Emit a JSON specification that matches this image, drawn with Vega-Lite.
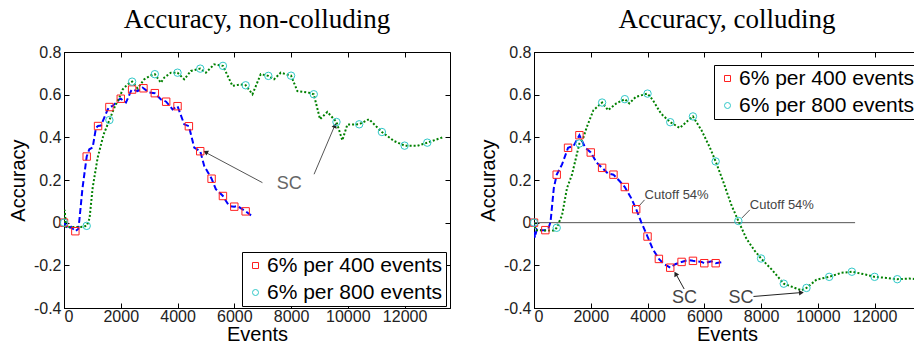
{
  "$schema": "https://vega.github.io/schema/vega-lite/v6.json",
  "background": "white",
  "padding": {"left": 7, "top": 5, "right": 0, "bottom": 0},
  "config": {
    "view": {"stroke": "black", "strokeWidth": 1},
    "font": "Liberation Sans",
    "axis": {
      "grid": false,
      "domainColor": "black",
      "tickColor": "black",
      "tickSize": -5,
      "labelColor": "#222",
      "labelFont": "Liberation Sans",
      "labelFontSize": 16,
      "labelPadding": 8,
      "titleFont": "Liberation Sans",
      "titleFontSize": 20,
      "titleFontWeight": "normal",
      "titleColor": "black"
    },
    "axisX": {"titlePadding": 0, "labelPadding": 5},
    "axisY": {"titlePadding": 5},
    "title": {"font": "Liberation Serif", "fontSize": 27, "fontWeight": "normal", "color": "black", "offset": 10},
    "legend": {
      "strokeColor": "black",
      "fillColor": "white",
      "padding": 3,
      "labelFont": "Liberation Sans",
      "labelFontSize": 21,
      "labelColor": "black",
      "labelLimit": 400,
      "symbolSize": 36,
      "symbolStrokeWidth": 1,
      "rowPadding": 5,
      "labelOffset": 1
    },
    "concat": {"spacing": 26}
  },
  "datasets": {
    "left": [
      {"series": "6% per 400 events", "events": 0, "accuracy": 0.0, "marker": 1},
      {"series": "6% per 400 events", "events": 150, "accuracy": -0.03, "marker": 0},
      {"series": "6% per 400 events", "events": 250, "accuracy": -0.02, "marker": 0},
      {"series": "6% per 400 events", "events": 400, "accuracy": -0.04, "marker": 1},
      {"series": "6% per 400 events", "events": 500, "accuracy": -0.03, "marker": 0},
      {"series": "6% per 400 events", "events": 540, "accuracy": 0.01, "marker": 0},
      {"series": "6% per 400 events", "events": 650, "accuracy": 0.16, "marker": 0},
      {"series": "6% per 400 events", "events": 800, "accuracy": 0.31, "marker": 1},
      {"series": "6% per 400 events", "events": 893, "accuracy": 0.344, "marker": 0},
      {"series": "6% per 400 events", "events": 1010, "accuracy": 0.352, "marker": 0},
      {"series": "6% per 400 events", "events": 1127, "accuracy": 0.445, "marker": 0},
      {"series": "6% per 400 events", "events": 1200, "accuracy": 0.453, "marker": 1},
      {"series": "6% per 400 events", "events": 1303, "accuracy": 0.455, "marker": 0},
      {"series": "6% per 400 events", "events": 1538, "accuracy": 0.53, "marker": 0},
      {"series": "6% per 400 events", "events": 1600, "accuracy": 0.542, "marker": 1},
      {"series": "6% per 400 events", "events": 1714, "accuracy": 0.547, "marker": 0},
      {"series": "6% per 400 events", "events": 1948, "accuracy": 0.578, "marker": 0},
      {"series": "6% per 400 events", "events": 2000, "accuracy": 0.581, "marker": 1},
      {"series": "6% per 400 events", "events": 2183, "accuracy": 0.563, "marker": 0},
      {"series": "6% per 400 events", "events": 2359, "accuracy": 0.617, "marker": 0},
      {"series": "6% per 400 events", "events": 2400, "accuracy": 0.624, "marker": 1},
      {"series": "6% per 400 events", "events": 2594, "accuracy": 0.617, "marker": 0},
      {"series": "6% per 400 events", "events": 2770, "accuracy": 0.633, "marker": 0},
      {"series": "6% per 400 events", "events": 2800, "accuracy": 0.63, "marker": 1},
      {"series": "6% per 400 events", "events": 3005, "accuracy": 0.61, "marker": 0},
      {"series": "6% per 400 events", "events": 3200, "accuracy": 0.607, "marker": 1},
      {"series": "6% per 400 events", "events": 3415, "accuracy": 0.578, "marker": 0},
      {"series": "6% per 400 events", "events": 3600, "accuracy": 0.567, "marker": 1},
      {"series": "6% per 400 events", "events": 3825, "accuracy": 0.531, "marker": 0},
      {"series": "6% per 400 events", "events": 4000, "accuracy": 0.546, "marker": 1},
      {"series": "6% per 400 events", "events": 4236, "accuracy": 0.461, "marker": 0},
      {"series": "6% per 400 events", "events": 4400, "accuracy": 0.452, "marker": 1},
      {"series": "6% per 400 events", "events": 4588, "accuracy": 0.352, "marker": 0},
      {"series": "6% per 400 events", "events": 4800, "accuracy": 0.335, "marker": 1},
      {"series": "6% per 400 events", "events": 4940, "accuracy": 0.266, "marker": 0},
      {"series": "6% per 400 events", "events": 5200, "accuracy": 0.206, "marker": 1},
      {"series": "6% per 400 events", "events": 5350, "accuracy": 0.157, "marker": 0},
      {"series": "6% per 400 events", "events": 5600, "accuracy": 0.125, "marker": 1},
      {"series": "6% per 400 events", "events": 5820, "accuracy": 0.078, "marker": 0},
      {"series": "6% per 400 events", "events": 6000, "accuracy": 0.075, "marker": 1},
      {"series": "6% per 400 events", "events": 6112, "accuracy": 0.078, "marker": 0},
      {"series": "6% per 400 events", "events": 6400, "accuracy": 0.053, "marker": 1},
      {"series": "6% per 400 events", "events": 6650, "accuracy": 0.028, "marker": 0},
      {"series": "6% per 800 events", "events": 0, "accuracy": 0.0, "marker": 1},
      {"series": "6% per 800 events", "events": 20, "accuracy": 0.06, "marker": 0},
      {"series": "6% per 800 events", "events": 80, "accuracy": -0.02, "marker": 0},
      {"series": "6% per 800 events", "events": 300, "accuracy": -0.02, "marker": 0},
      {"series": "6% per 800 events", "events": 600, "accuracy": -0.02, "marker": 0},
      {"series": "6% per 800 events", "events": 800, "accuracy": -0.015, "marker": 1},
      {"series": "6% per 800 events", "events": 900, "accuracy": 0.02, "marker": 0},
      {"series": "6% per 800 events", "events": 1010, "accuracy": 0.164, "marker": 0},
      {"series": "6% per 800 events", "events": 1186, "accuracy": 0.305, "marker": 0},
      {"series": "6% per 800 events", "events": 1397, "accuracy": 0.414, "marker": 0},
      {"series": "6% per 800 events", "events": 1600, "accuracy": 0.481, "marker": 1},
      {"series": "6% per 800 events", "events": 1773, "accuracy": 0.539, "marker": 0},
      {"series": "6% per 800 events", "events": 1949, "accuracy": 0.586, "marker": 0},
      {"series": "6% per 800 events", "events": 2070, "accuracy": 0.625, "marker": 0},
      {"series": "6% per 800 events", "events": 2246, "accuracy": 0.649, "marker": 0},
      {"series": "6% per 800 events", "events": 2400, "accuracy": 0.661, "marker": 1},
      {"series": "6% per 800 events", "events": 2593, "accuracy": 0.63, "marker": 0},
      {"series": "6% per 800 events", "events": 2828, "accuracy": 0.672, "marker": 0},
      {"series": "6% per 800 events", "events": 3062, "accuracy": 0.69, "marker": 0},
      {"series": "6% per 800 events", "events": 3200, "accuracy": 0.696, "marker": 1},
      {"series": "6% per 800 events", "events": 3414, "accuracy": 0.656, "marker": 0},
      {"series": "6% per 800 events", "events": 3532, "accuracy": 0.68, "marker": 0},
      {"series": "6% per 800 events", "events": 3766, "accuracy": 0.703, "marker": 0},
      {"series": "6% per 800 events", "events": 4000, "accuracy": 0.703, "marker": 1},
      {"series": "6% per 800 events", "events": 4235, "accuracy": 0.672, "marker": 0},
      {"series": "6% per 800 events", "events": 4470, "accuracy": 0.711, "marker": 0},
      {"series": "6% per 800 events", "events": 4800, "accuracy": 0.722, "marker": 1},
      {"series": "6% per 800 events", "events": 4997, "accuracy": 0.703, "marker": 0},
      {"series": "6% per 800 events", "events": 5290, "accuracy": 0.742, "marker": 0},
      {"series": "6% per 800 events", "events": 5600, "accuracy": 0.735, "marker": 1},
      {"series": "6% per 800 events", "events": 5936, "accuracy": 0.641, "marker": 0},
      {"series": "6% per 800 events", "events": 6228, "accuracy": 0.648, "marker": 0},
      {"series": "6% per 800 events", "events": 6400, "accuracy": 0.644, "marker": 1},
      {"series": "6% per 800 events", "events": 6640, "accuracy": 0.602, "marker": 0},
      {"series": "6% per 800 events", "events": 6932, "accuracy": 0.696, "marker": 0},
      {"series": "6% per 800 events", "events": 7200, "accuracy": 0.688, "marker": 1},
      {"series": "6% per 800 events", "events": 7402, "accuracy": 0.672, "marker": 0},
      {"series": "6% per 800 events", "events": 7636, "accuracy": 0.703, "marker": 0},
      {"series": "6% per 800 events", "events": 8000, "accuracy": 0.689, "marker": 1},
      {"series": "6% per 800 events", "events": 8223, "accuracy": 0.617, "marker": 0},
      {"series": "6% per 800 events", "events": 8634, "accuracy": 0.609, "marker": 0},
      {"series": "6% per 800 events", "events": 8800, "accuracy": 0.602, "marker": 1},
      {"series": "6% per 800 events", "events": 9021, "accuracy": 0.485, "marker": 0},
      {"series": "6% per 800 events", "events": 9279, "accuracy": 0.519, "marker": 0},
      {"series": "6% per 800 events", "events": 9600, "accuracy": 0.472, "marker": 1},
      {"series": "6% per 800 events", "events": 9807, "accuracy": 0.386, "marker": 0},
      {"series": "6% per 800 events", "events": 9983, "accuracy": 0.46, "marker": 0},
      {"series": "6% per 800 events", "events": 10400, "accuracy": 0.461, "marker": 1},
      {"series": "6% per 800 events", "events": 10746, "accuracy": 0.485, "marker": 0},
      {"series": "6% per 800 events", "events": 11200, "accuracy": 0.425, "marker": 1},
      {"series": "6% per 800 events", "events": 11626, "accuracy": 0.383, "marker": 0},
      {"series": "6% per 800 events", "events": 12000, "accuracy": 0.361, "marker": 1},
      {"series": "6% per 800 events", "events": 12446, "accuracy": 0.36, "marker": 0},
      {"series": "6% per 800 events", "events": 12800, "accuracy": 0.375, "marker": 1},
      {"series": "6% per 800 events", "events": 13385, "accuracy": 0.402, "marker": 0}
    ],
    "right": [
      {"series": "6% per 400 events", "events": 0, "accuracy": 0.0, "marker": 1},
      {"series": "6% per 400 events", "events": 30, "accuracy": -0.07, "marker": 0},
      {"series": "6% per 400 events", "events": 100, "accuracy": -0.03, "marker": 0},
      {"series": "6% per 400 events", "events": 250, "accuracy": -0.035, "marker": 0},
      {"series": "6% per 400 events", "events": 400, "accuracy": -0.035, "marker": 1},
      {"series": "6% per 400 events", "events": 500, "accuracy": -0.03, "marker": 0},
      {"series": "6% per 400 events", "events": 582, "accuracy": 0.003, "marker": 0},
      {"series": "6% per 400 events", "events": 698, "accuracy": 0.162, "marker": 0},
      {"series": "6% per 400 events", "events": 800, "accuracy": 0.225, "marker": 1},
      {"series": "6% per 400 events", "events": 988, "accuracy": 0.273, "marker": 0},
      {"series": "6% per 400 events", "events": 1200, "accuracy": 0.351, "marker": 1},
      {"series": "6% per 400 events", "events": 1395, "accuracy": 0.36, "marker": 0},
      {"series": "6% per 400 events", "events": 1600, "accuracy": 0.41, "marker": 1},
      {"series": "6% per 400 events", "events": 1802, "accuracy": 0.352, "marker": 0},
      {"series": "6% per 400 events", "events": 2000, "accuracy": 0.329, "marker": 1},
      {"series": "6% per 400 events", "events": 2209, "accuracy": 0.281, "marker": 0},
      {"series": "6% per 400 events", "events": 2400, "accuracy": 0.257, "marker": 1},
      {"series": "6% per 400 events", "events": 2610, "accuracy": 0.23, "marker": 0},
      {"series": "6% per 400 events", "events": 2800, "accuracy": 0.225, "marker": 1},
      {"series": "6% per 400 events", "events": 3022, "accuracy": 0.194, "marker": 0},
      {"series": "6% per 400 events", "events": 3200, "accuracy": 0.167, "marker": 1},
      {"series": "6% per 400 events", "events": 3429, "accuracy": 0.114, "marker": 0},
      {"series": "6% per 400 events", "events": 3600, "accuracy": 0.063, "marker": 1},
      {"series": "6% per 400 events", "events": 3779, "accuracy": 0.003, "marker": 0},
      {"series": "6% per 400 events", "events": 4000, "accuracy": -0.065, "marker": 1},
      {"series": "6% per 400 events", "events": 4185, "accuracy": -0.124, "marker": 0},
      {"series": "6% per 400 events", "events": 4400, "accuracy": -0.17, "marker": 1},
      {"series": "6% per 400 events", "events": 4592, "accuracy": -0.195, "marker": 0},
      {"series": "6% per 400 events", "events": 4800, "accuracy": -0.211, "marker": 1},
      {"series": "6% per 400 events", "events": 4975, "accuracy": -0.195, "marker": 0},
      {"series": "6% per 400 events", "events": 5200, "accuracy": -0.184, "marker": 1},
      {"series": "6% per 400 events", "events": 5441, "accuracy": -0.175, "marker": 0},
      {"series": "6% per 400 events", "events": 5600, "accuracy": -0.179, "marker": 1},
      {"series": "6% per 400 events", "events": 5906, "accuracy": -0.184, "marker": 0},
      {"series": "6% per 400 events", "events": 6000, "accuracy": -0.19, "marker": 1},
      {"series": "6% per 400 events", "events": 6255, "accuracy": -0.181, "marker": 0},
      {"series": "6% per 400 events", "events": 6400, "accuracy": -0.19, "marker": 1},
      {"series": "6% per 400 events", "events": 6651, "accuracy": -0.184, "marker": 0},
      {"series": "6% per 800 events", "events": 0, "accuracy": 0.0, "marker": 1},
      {"series": "6% per 800 events", "events": 60, "accuracy": -0.035, "marker": 0},
      {"series": "6% per 800 events", "events": 400, "accuracy": -0.037, "marker": 0},
      {"series": "6% per 800 events", "events": 698, "accuracy": -0.037, "marker": 0},
      {"series": "6% per 800 events", "events": 800, "accuracy": -0.024, "marker": 1},
      {"series": "6% per 800 events", "events": 988, "accuracy": 0.035, "marker": 0},
      {"series": "6% per 800 events", "events": 1162, "accuracy": 0.162, "marker": 0},
      {"series": "6% per 800 events", "events": 1337, "accuracy": 0.225, "marker": 0},
      {"series": "6% per 800 events", "events": 1600, "accuracy": 0.371, "marker": 1},
      {"series": "6% per 800 events", "events": 1744, "accuracy": 0.4, "marker": 0},
      {"series": "6% per 800 events", "events": 1860, "accuracy": 0.448, "marker": 0},
      {"series": "6% per 800 events", "events": 2093, "accuracy": 0.527, "marker": 0},
      {"series": "6% per 800 events", "events": 2400, "accuracy": 0.563, "marker": 1},
      {"series": "6% per 800 events", "events": 2610, "accuracy": 0.527, "marker": 0},
      {"series": "6% per 800 events", "events": 2900, "accuracy": 0.559, "marker": 0},
      {"series": "6% per 800 events", "events": 3200, "accuracy": 0.579, "marker": 1},
      {"series": "6% per 800 events", "events": 3359, "accuracy": 0.559, "marker": 0},
      {"series": "6% per 800 events", "events": 3591, "accuracy": 0.59, "marker": 0},
      {"series": "6% per 800 events", "events": 4000, "accuracy": 0.605, "marker": 1},
      {"series": "6% per 800 events", "events": 4185, "accuracy": 0.575, "marker": 0},
      {"series": "6% per 800 events", "events": 4476, "accuracy": 0.511, "marker": 0},
      {"series": "6% per 800 events", "events": 4800, "accuracy": 0.471, "marker": 1},
      {"series": "6% per 800 events", "events": 5138, "accuracy": 0.444, "marker": 0},
      {"series": "6% per 800 events", "events": 5429, "accuracy": 0.479, "marker": 0},
      {"series": "6% per 800 events", "events": 5600, "accuracy": 0.498, "marker": 1},
      {"series": "6% per 800 events", "events": 5906, "accuracy": 0.432, "marker": 0},
      {"series": "6% per 800 events", "events": 6197, "accuracy": 0.352, "marker": 0},
      {"series": "6% per 800 events", "events": 6400, "accuracy": 0.287, "marker": 1},
      {"series": "6% per 800 events", "events": 6662, "accuracy": 0.194, "marker": 0},
      {"series": "6% per 800 events", "events": 6953, "accuracy": 0.083, "marker": 0},
      {"series": "6% per 800 events", "events": 7200, "accuracy": 0.008, "marker": 1},
      {"series": "6% per 800 events", "events": 7488, "accuracy": -0.076, "marker": 0},
      {"series": "6% per 800 events", "events": 7779, "accuracy": -0.132, "marker": 0},
      {"series": "6% per 800 events", "events": 8000, "accuracy": -0.168, "marker": 1},
      {"series": "6% per 800 events", "events": 8371, "accuracy": -0.219, "marker": 0},
      {"series": "6% per 800 events", "events": 8800, "accuracy": -0.286, "marker": 1},
      {"series": "6% per 800 events", "events": 9196, "accuracy": -0.306, "marker": 0},
      {"series": "6% per 800 events", "events": 9429, "accuracy": -0.317, "marker": 0},
      {"series": "6% per 800 events", "events": 9600, "accuracy": -0.306, "marker": 1},
      {"series": "6% per 800 events", "events": 9952, "accuracy": -0.267, "marker": 0},
      {"series": "6% per 800 events", "events": 10400, "accuracy": -0.254, "marker": 1},
      {"series": "6% per 800 events", "events": 10835, "accuracy": -0.235, "marker": 0},
      {"series": "6% per 800 events", "events": 11200, "accuracy": -0.23, "marker": 1},
      {"series": "6% per 800 events", "events": 11680, "accuracy": -0.243, "marker": 0},
      {"series": "6% per 800 events", "events": 12000, "accuracy": -0.254, "marker": 1},
      {"series": "6% per 800 events", "events": 12418, "accuracy": -0.259, "marker": 0},
      {"series": "6% per 800 events", "events": 12800, "accuracy": -0.265, "marker": 1},
      {"series": "6% per 800 events", "events": 13219, "accuracy": -0.262, "marker": 0},
      {"series": "6% per 800 events", "events": 13500, "accuracy": -0.265, "marker": 0}
    ],
    "leftArrows": [
      {"events": 6992, "accuracy": 0.1875, "events2": 4940, "accuracy2": 0.333},
      {"events": 8811, "accuracy": 0.227, "events2": 9571, "accuracy2": 0.465}
    ],
    "rightArrows": [
      {"events": 5291, "accuracy": -0.311, "events2": 4977, "accuracy2": -0.235},
      {"events": 7733, "accuracy": -0.346, "events2": 9477, "accuracy2": -0.327}
    ],
    "rightLeaders": [
      {"events": 3896, "accuracy": 0.107, "events2": 3680, "accuracy2": 0.075},
      {"events": 7604, "accuracy": 0.06, "events2": 7325, "accuracy2": 0.022}
    ],
    "rightZero": [
      {"events": 0, "accuracy": 0, "events2": 11313, "accuracy2": 0}
    ],
    "leftLabels": [
      {"events": 7940, "accuracy": 0.18, "text": "SC"}
    ],
    "rightSC": [
      {"events": 5300, "accuracy": -0.354, "text": "SC"},
      {"events": 7290, "accuracy": -0.354, "text": "SC"}
    ],
    "rightCutoff": [
      {"events": 3896, "accuracy": 0.13, "text": "Cutoff 54%"},
      {"events": 7604, "accuracy": 0.083, "text": "Cutoff 54%"}
    ]
  },
  "hconcat": [
    {
      "width": 386,
      "height": 256,
      "title": {"text": "Accuracy, non-colluding"},
      "layer": [
        {
          "data": {"name": "left"},
          "transform": [{"filter": "datum.series == '6% per 400 events'"}],
          "mark": {"type": "line", "color": "#0000ff", "strokeDash": [6, 3], "strokeWidth": 2, "clip": true},
          "encoding": {
            "x": {"field": "events", "type": "quantitative", "scale": {"domain": [0, 13600], "nice": false, "zero": false}, "axis": {"orient": "bottom", "title": "Events", "values": [0, 2000, 4000, 6000, 8000, 10000, 12000], "format": "d"}},
            "y": {"field": "accuracy", "type": "quantitative", "scale": {"domain": [-0.4, 0.8], "nice": false, "zero": false}, "axis": {"orient": "left", "title": "Accuracy", "values": [-0.4, -0.2, 0, 0.2, 0.4, 0.6, 0.8], "labelExpr": "datum.value == 0 ? '0' : (datum.value < 0 ? '-' + format(-datum.value, '.1f') : format(datum.value, '.1f'))"}}
          }
        },
        {
          "data": {"name": "left"},
          "transform": [{"filter": "datum.series == '6% per 800 events'"}],
          "mark": {"type": "line", "color": "#008000", "strokeDash": [2, 2], "strokeWidth": 2, "clip": true},
          "encoding": {
            "x": {"field": "events", "type": "quantitative", "axis": null},
            "y": {"field": "accuracy", "type": "quantitative", "axis": null}
          }
        },
        {
          "data": {"name": "leftArrows"},
          "mark": {"type": "rule", "color": "#555", "strokeWidth": 1},
          "encoding": {
            "x": {"field": "events", "type": "quantitative", "axis": null},
            "y": {"field": "accuracy", "type": "quantitative", "axis": null},
            "x2": {"field": "events2"},
            "y2": {"field": "accuracy2"}
          }
        },
        {
          "data": {"values": [{"events": 4990, "accuracy": 0.331}]},
          "mark": {"type": "point", "shape": "triangle-up", "filled": true, "color": "#222", "size": 30, "angle": 298, "opacity": 1},
          "encoding": {"x": {"field": "events", "type": "quantitative", "axis": null}, "y": {"field": "accuracy", "type": "quantitative", "axis": null}}
        },
        {
          "data": {"values": [{"events": 9550, "accuracy": 0.455}]},
          "mark": {"type": "point", "shape": "triangle-up", "filled": true, "color": "#222", "size": 30, "angle": 23, "opacity": 1},
          "encoding": {"x": {"field": "events", "type": "quantitative", "axis": null}, "y": {"field": "accuracy", "type": "quantitative", "axis": null}}
        },
        {
          "data": {"name": "leftLabels"},
          "mark": {"type": "text", "fontSize": 18, "color": "#666", "align": "center", "baseline": "middle", "font": "Liberation Sans"},
          "encoding": {"x": {"field": "events", "type": "quantitative", "axis": null}, "y": {"field": "accuracy", "type": "quantitative", "axis": null}, "text": {"field": "text"}}
        },
        {
          "data": {"name": "left"},
          "transform": [{"filter": "datum.marker == 1"}],
          "mark": {"type": "point", "filled": false, "strokeWidth": 1, "size": 55, "opacity": 1},
          "encoding": {
            "x": {"field": "events", "type": "quantitative", "axis": {"orient": "top", "title": null, "labels": false, "domain": false, "values": [0, 2000, 4000, 6000, 8000, 10000, 12000]}},
            "y": {"field": "accuracy", "type": "quantitative", "axis": {"orient": "right", "title": null, "labels": false, "domain": false, "values": [-0.4, -0.2, 0, 0.2, 0.4, 0.6, 0.8]}},
            "color": {"field": "series", "type": "nominal", "scale": {"domain": ["6% per 400 events", "6% per 800 events"], "range": ["#ff2020", "#30c8c8"]}, "legend": {"title": null, "orient": "none", "legendX": 178, "legendY": 200}},
            "shape": {"field": "series", "type": "nominal", "scale": {"domain": ["6% per 400 events", "6% per 800 events"], "range": ["square", "circle"]}, "legend": {"title": null, "orient": "none", "legendX": 178, "legendY": 200}}
          }
        }
      ]
    },
    {
      "width": 386,
      "height": 256,
      "title": {"text": "Accuracy, colluding"},
      "layer": [
        {
          "data": {"name": "rightZero"},
          "mark": {"type": "rule", "color": "#555", "strokeWidth": 1},
          "encoding": {
            "x": {"field": "events", "type": "quantitative", "scale": {"domain": [0, 13600], "nice": false, "zero": false}, "axis": {"orient": "bottom", "title": "Events", "values": [0, 2000, 4000, 6000, 8000, 10000, 12000], "format": "d"}},
            "y": {"field": "accuracy", "type": "quantitative", "scale": {"domain": [-0.4, 0.8], "nice": false, "zero": false}, "axis": {"orient": "left", "title": "Accuracy", "values": [-0.4, -0.2, 0, 0.2, 0.4, 0.6, 0.8], "labelExpr": "datum.value == 0 ? '0' : (datum.value < 0 ? '-' + format(-datum.value, '.1f') : format(datum.value, '.1f'))"}},
            "x2": {"field": "events2"},
            "y2": {"field": "accuracy2"}
          }
        },
        {
          "data": {"name": "right"},
          "transform": [{"filter": "datum.series == '6% per 400 events'"}],
          "mark": {"type": "line", "color": "#0000ff", "strokeDash": [6, 3], "strokeWidth": 2, "clip": true},
          "encoding": {
            "x": {"field": "events", "type": "quantitative", "axis": null},
            "y": {"field": "accuracy", "type": "quantitative", "axis": null}
          }
        },
        {
          "data": {"name": "right"},
          "transform": [{"filter": "datum.series == '6% per 800 events'"}],
          "mark": {"type": "line", "color": "#008000", "strokeDash": [2, 2], "strokeWidth": 2, "clip": true},
          "encoding": {
            "x": {"field": "events", "type": "quantitative", "axis": null},
            "y": {"field": "accuracy", "type": "quantitative", "axis": null}
          }
        },
        {
          "data": {"name": "rightArrows"},
          "mark": {"type": "rule", "color": "#222", "strokeWidth": 1},
          "encoding": {
            "x": {"field": "events", "type": "quantitative", "axis": null},
            "y": {"field": "accuracy", "type": "quantitative", "axis": null},
            "x2": {"field": "events2"},
            "y2": {"field": "accuracy2"}
          }
        },
        {
          "data": {"name": "rightLeaders"},
          "mark": {"type": "rule", "color": "#555", "strokeWidth": 1},
          "encoding": {
            "x": {"field": "events", "type": "quantitative", "axis": null},
            "y": {"field": "accuracy", "type": "quantitative", "axis": null},
            "x2": {"field": "events2"},
            "y2": {"field": "accuracy2"}
          }
        },
        {
          "data": {"values": [{"events": 4990, "accuracy": -0.24}]},
          "mark": {"type": "point", "shape": "triangle-up", "filled": true, "color": "#222", "size": 30, "angle": 331, "opacity": 1},
          "encoding": {"x": {"field": "events", "type": "quantitative", "axis": null}, "y": {"field": "accuracy", "type": "quantitative", "axis": null}}
        },
        {
          "data": {"values": [{"events": 9420, "accuracy": -0.328}]},
          "mark": {"type": "point", "shape": "triangle-up", "filled": true, "color": "#222", "size": 30, "angle": 85, "opacity": 1},
          "encoding": {"x": {"field": "events", "type": "quantitative", "axis": null}, "y": {"field": "accuracy", "type": "quantitative", "axis": null}}
        },
        {
          "data": {"name": "rightSC"},
          "mark": {"type": "text", "fontSize": 18, "color": "#444", "align": "center", "baseline": "middle", "font": "Liberation Sans"},
          "encoding": {"x": {"field": "events", "type": "quantitative", "axis": null}, "y": {"field": "accuracy", "type": "quantitative", "axis": null}, "text": {"field": "text"}}
        },
        {
          "data": {"name": "rightCutoff"},
          "mark": {"type": "text", "fontSize": 13, "color": "#444", "align": "left", "baseline": "middle", "font": "Liberation Sans"},
          "encoding": {"x": {"field": "events", "type": "quantitative", "axis": null}, "y": {"field": "accuracy", "type": "quantitative", "axis": null}, "text": {"field": "text"}}
        },
        {
          "data": {"name": "right"},
          "transform": [{"filter": "datum.marker == 1"}],
          "mark": {"type": "point", "filled": false, "strokeWidth": 1, "size": 55, "opacity": 1},
          "encoding": {
            "x": {"field": "events", "type": "quantitative", "axis": {"orient": "top", "title": null, "labels": false, "domain": false, "values": [0, 2000, 4000, 6000, 8000, 10000, 12000]}},
            "y": {"field": "accuracy", "type": "quantitative", "axis": {"orient": "right", "title": null, "labels": false, "domain": false, "values": [-0.4, -0.2, 0, 0.2, 0.4, 0.6, 0.8]}},
            "color": {"field": "series", "type": "nominal", "scale": {"domain": ["6% per 400 events", "6% per 800 events"], "range": ["#ff2020", "#30c8c8"]}, "legend": {"title": null, "orient": "none", "legendX": 180, "legendY": 13}},
            "shape": {"field": "series", "type": "nominal", "scale": {"domain": ["6% per 400 events", "6% per 800 events"], "range": ["square", "circle"]}, "legend": {"title": null, "orient": "none", "legendX": 180, "legendY": 13}}
          }
        }
      ]
    }
  ],
  "resolve": {
    "scale": {"color": "independent", "shape": "independent"},
    "legend": {"color": "independent", "shape": "independent"}
  }
}
